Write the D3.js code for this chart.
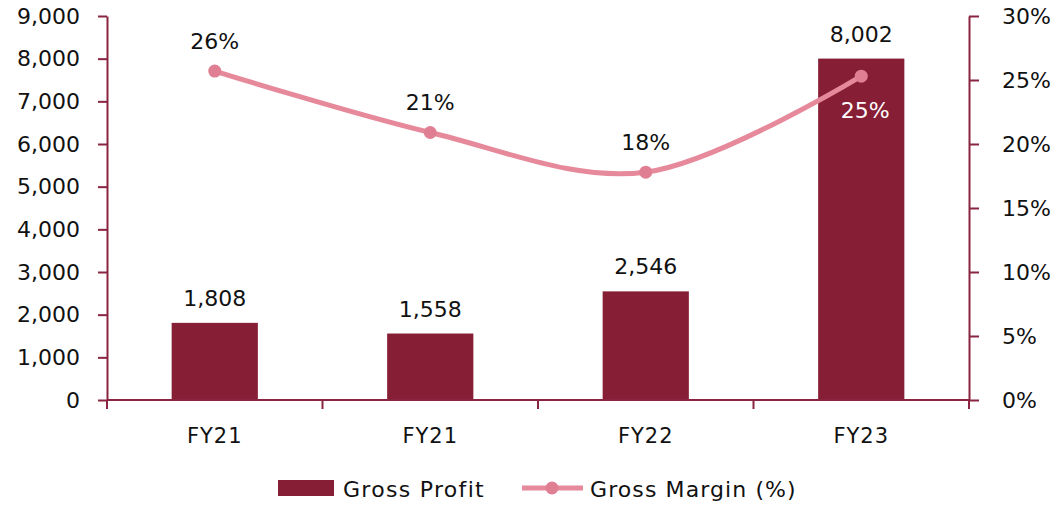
<!DOCTYPE html>
<html>
<head>
<meta charset="utf-8">
<script src="https://cdn.jsdelivr.net/npm/d3@7"></script>
<style>
  body { margin: 0; background: #fff; }
  text { font-family: "DejaVu Sans", sans-serif; fill: #111; }
</style>
</head>
<body>
<div class="chart"></div>
<script>
// chart data
var years = ["FY21", "FY21", "FY22", "FY23"];
var grossProfit = [1808, 1558, 2546, 8002];
var grossMargin = [25.7, 20.9, 17.8, 25.3];
var marginLabels = ["26%", "21%", "18%", "25%"];
var leftTicks = [0, 1000, 2000, 3000, 4000, 5000, 6000, 7000, 8000, 9000];
var rightTicks = [0, 5, 10, 15, 20, 25, 30];

var svgWidth = 1056;
var svgHeight = 505;

var margin = { top: 16, right: 87, bottom: 105, left: 107 };
var chartWidth = svgWidth - margin.left - margin.right;
var chartHeight = svgHeight - margin.top - margin.bottom;

var barColor = "#861e35";
var axisColor = "#8a2440";
var lineColor = "#e68a9b";

var svg = d3.select(".chart")
  .append("svg")
  .attr("width", svgWidth)
  .attr("height", svgHeight);

var chart = svg.append("g")
  .attr("transform", "translate(" + margin.left + "," + margin.top + ")");

var x = d3.scaleBand().domain(d3.range(years.length)).range([0, chartWidth]).paddingInner(0).paddingOuter(0);
var yLeft = d3.scaleLinear().domain([0, 9000]).range([chartHeight, 0]);
var yRight = d3.scaleLinear().domain([0, 30]).range([chartHeight, 0]);

// left axis
var leftAxis = chart.append("g")
  .call(d3.axisLeft(yLeft).tickValues(leftTicks).tickFormat(d3.format(",")).tickSize(9).tickSizeOuter(0).tickPadding(18));
leftAxis.selectAll("text").style("font-size", "22px");

// right axis
var rightAxis = chart.append("g")
  .attr("transform", "translate(" + chartWidth + ",0)")
  .call(d3.axisRight(yRight).tickValues(rightTicks).tickFormat(function(d) { return d + "%"; }).tickSize(10).tickSizeOuter(0).tickPadding(23));
rightAxis.selectAll("text").style("font-size", "22px").attr("text-anchor", "start");

[leftAxis, rightAxis].forEach(function(a) {
  a.selectAll("line").attr("stroke", axisColor).attr("stroke-width", 2);
  a.select(".domain").attr("stroke", axisColor).attr("stroke-width", 2);
});

// bars
var barW = x.bandwidth() * 0.4;
chart.selectAll(".bar")
  .data(grossProfit)
  .enter()
  .append("rect")
  .attr("class", "bar")
  .attr("x", function(d, i) { return x(i) + x.bandwidth() / 2 - barW / 2; })
  .attr("y", function(d) { return yLeft(d); })
  .attr("width", barW)
  .attr("height", function(d) { return chartHeight - yLeft(d); })
  .attr("fill", barColor);

// bottom axis with ticks at category boundaries
var xAxisG = chart.append("g").attr("transform", "translate(0," + chartHeight + ")");
xAxisG.append("line")
  .attr("x1", 0).attr("x2", chartWidth)
  .attr("stroke", axisColor).attr("stroke-width", 2);
xAxisG.selectAll(".xtick")
  .data(d3.range(years.length + 1))
  .enter()
  .append("line")
  .attr("x1", function(i) { return i * x.step(); })
  .attr("x2", function(i) { return i * x.step(); })
  .attr("y1", 0).attr("y2", 9)
  .attr("stroke", axisColor).attr("stroke-width", 2);
xAxisG.selectAll(".xlabel")
  .data(years)
  .enter()
  .append("text")
  .attr("x", function(d, i) { return x(i) + x.bandwidth() / 2; })
  .attr("y", 43)
  .attr("text-anchor", "middle")
  .style("font-size", "21px")
  .style("letter-spacing", "1px")
  .text(function(d) { return d; });

// bar value labels
chart.selectAll(".barLabel")
  .data(grossProfit)
  .enter()
  .append("text")
  .attr("x", function(d, i) { return x(i) + x.bandwidth() / 2; })
  .attr("y", function(d) { return yLeft(d) - 17; })
  .attr("text-anchor", "middle")
  .style("font-size", "22px")
  .text(function(d) { return d3.format(",")(d); });

// margin line
var line = d3.line()
  .x(function(d, i) { return x(i) + x.bandwidth() / 2; })
  .y(function(d) { return yRight(d); })
  .curve(d3.curveCardinal.tension(0));

chart.append("path")
  .datum(grossMargin)
  .attr("d", line)
  .attr("fill", "none")
  .attr("stroke", lineColor)
  .attr("stroke-width", 5);

chart.selectAll(".dot")
  .data(grossMargin)
  .enter()
  .append("circle")
  .attr("cx", function(d, i) { return x(i) + x.bandwidth() / 2; })
  .attr("cy", function(d) { return yRight(d); })
  .attr("r", 6.5)
  .attr("fill", "#e07f93");

chart.selectAll(".marginLabel")
  .data(grossMargin)
  .enter()
  .append("text")
  .attr("x", function(d, i) { return x(i) + x.bandwidth() / 2 + (i === 3 ? 4 : 0); })
  .attr("y", function(d, i) { return i === 3 ? yRight(d) + 42 : yRight(d) - 22; })
  .attr("text-anchor", "middle")
  .style("font-size", "22px")
  .style("fill", function(d, i) { return i === 3 ? "#fff" : "#111"; })
  .text(function(d, i) { return marginLabels[i]; });

// legend
var legend = svg.append("g");
legend.append("rect")
  .attr("x", 278).attr("y", 480)
  .attr("width", 56).attr("height", 16)
  .attr("fill", barColor);
legend.append("text")
  .attr("x", 343).attr("y", 497)
  .style("font-size", "22px")
  .style("letter-spacing", "1.3px")
  .text("Gross Profit");
legend.append("line")
  .attr("x1", 522).attr("x2", 583)
  .attr("y1", 488).attr("y2", 488)
  .attr("stroke", lineColor).attr("stroke-width", 5);
legend.append("circle")
  .attr("cx", 552).attr("cy", 488).attr("r", 6.5)
  .attr("fill", "#e07f93");
legend.append("text")
  .attr("x", 590).attr("y", 497)
  .style("font-size", "22px")
  .style("letter-spacing", "1.1px")
  .text("Gross Margin (%)");
</script>
</body>
</html>
